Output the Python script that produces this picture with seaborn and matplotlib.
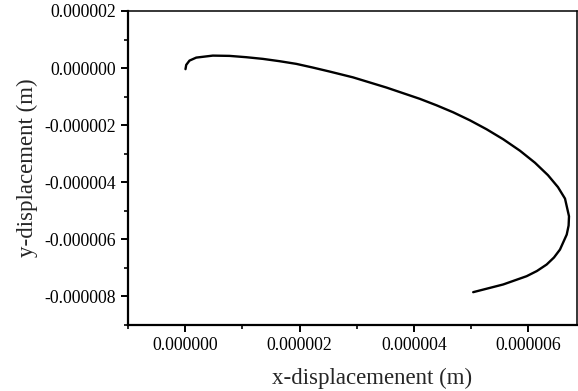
import matplotlib
matplotlib.use("Agg")
import matplotlib.pyplot as plt
import seaborn as sns
import pandas as pd
from matplotlib.ticker import MultipleLocator, FormatStrFormatter

x_disp = [0.005e-6, 0.018e-6, 0.075e-6, 0.193e-6, 0.483e-6, 0.776e-6, 1.068e-6, 1.359e-6,
          1.651e-6, 1.944e-6, 2.235e-6, 2.527e-6, 2.935e-6, 3.520e-6, 4.103e-6, 4.396e-6,
          4.687e-6, 4.979e-6, 5.271e-6, 5.562e-6, 5.855e-6, 6.117e-6, 6.345e-6, 6.520e-6,
          6.643e-6, 6.713e-6, 6.706e-6, 6.673e-6, 6.555e-6, 6.450e-6, 6.322e-6, 6.152e-6,
          5.972e-6, 5.562e-6, 5.037e-6]
y_disp = [-0.038e-6, 0.112e-6, 0.262e-6, 0.367e-6, 0.437e-6, 0.427e-6, 0.381e-6, 0.322e-6,
          0.241e-6, 0.147e-6, 0.017e-6, -0.122e-6, -0.325e-6, -0.682e-6, -1.077e-6, -1.304e-6,
          -1.549e-6, -1.829e-6, -2.143e-6, -2.493e-6, -2.895e-6, -3.315e-6, -3.752e-6, -4.171e-6,
          -4.573e-6, -5.192e-6, -5.517e-6, -5.832e-6, -6.357e-6, -6.636e-6, -6.881e-6, -7.108e-6,
          -7.290e-6, -7.580e-6, -7.850e-6]
order = list(range(len(x_disp)))

df = pd.DataFrame({"x": x_disp, "y": y_disp, "o": order})

sns.set_style("ticks")
plt.rcParams['font.family'] = ['Liberation Serif', 'DejaVu Serif']

fig = plt.figure(figsize=(5.78, 3.91), dpi=100)
ax = fig.add_axes([0.2215, 0.1688, 0.7765, 0.8031])
sns.lineplot(data=df, x="x", y="y", sort=False, color="black", linewidth=1.7, ax=ax,
             estimator=None, solid_joinstyle='round', solid_capstyle='round')

ax.set_xlim(-1.0e-6, 6.85e-6)
ax.set_ylim(-9e-6, 2e-6)
ax.xaxis.set_major_locator(MultipleLocator(2e-6))
ax.xaxis.set_minor_locator(MultipleLocator(1e-6))
ax.yaxis.set_major_locator(MultipleLocator(2e-6))
ax.yaxis.set_minor_locator(MultipleLocator(1e-6))
ax.xaxis.set_major_formatter(FormatStrFormatter('%.6f'))
ax.yaxis.set_major_formatter(FormatStrFormatter('%.6f'))

ax.tick_params(axis='both', which='major', direction='out', length=5, width=1.4, labelsize=12.8, colors='black')
ax.tick_params(axis='both', which='minor', direction='out', length=3, width=1.4)
ax.tick_params(top=False, right=False, which='both')

for s in ['left', 'bottom']:
    ax.spines[s].set_linewidth(1.6)
for s in ['top', 'right']:
    ax.spines[s].set_visible(True)
    ax.spines[s].set_linewidth(1.1)
for s in ax.spines.values():
    s.set_color('black')

ax.set_xlabel("x-displacemenent (m)", fontsize=16.5, labelpad=10)
ax.xaxis.label.set_x(0.543)
ax.set_ylabel("y-displacement (m)", fontsize=16.5, labelpad=5)

fig.savefig("out.png", dpi=100)
